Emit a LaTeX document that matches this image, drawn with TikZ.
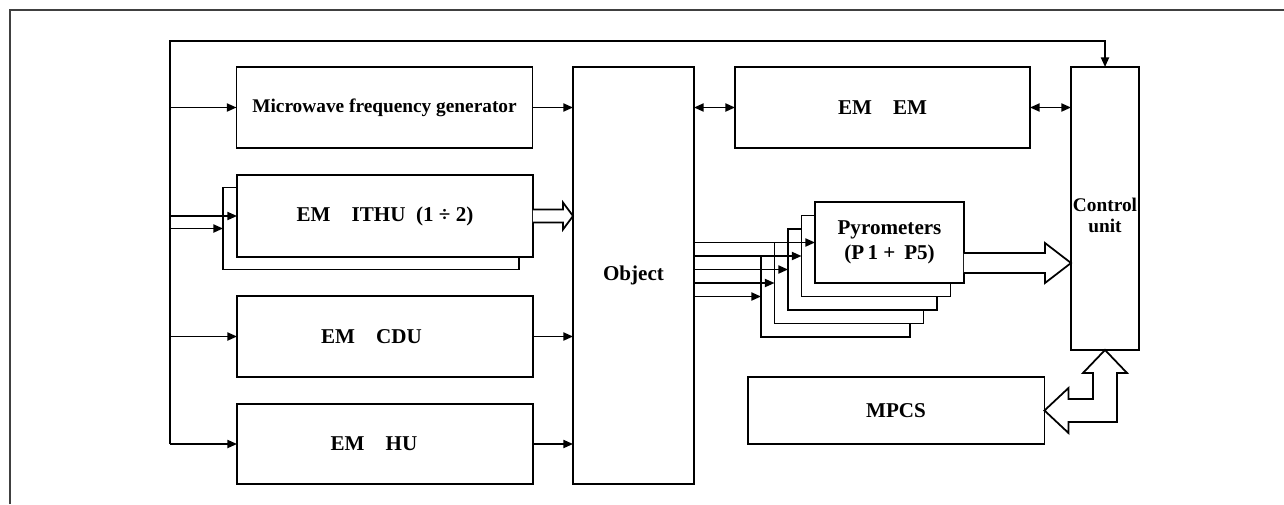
\documentclass[tikz,border=0pt]{standalone}
\usepackage{fontspec}
\setmainfont{Liberation Serif}
\usetikzlibrary{calc, arrows.meta}

\begin{document}
\begin{tikzpicture}[x=0.02cm, y=-0.02cm, line width=1pt,
    >={Triangle[length=5.5pt,width=4.6pt]},
    box/.style={draw, fill=white, line width=1.1pt, inner sep=0pt, outer sep=0pt,
      font=\bfseries\fontsize{12}{13}\selectfont, align=center},
    wide/.style={box, minimum width=5.92cm, minimum height=1.62cm},
    pbox/.style={box, minimum width=2.98cm, minimum height=1.62cm}]
    \useasboundingbox (0,0) rectangle (1284,504);
    \draw[line width=0.7pt, black!75] (10,504) -- (10,10) -- (1284,10);

    % left column
    \node (mfg) [wide, font=\bfseries\fontsize{11}{13}\selectfont] at (384.5,107.5) {Microwave frequency generator};
    \node (ithub) [wide, minimum height=1.64cm] at (371,228.5) {};
    \node (ithu) [wide, minimum height=1.64cm] at (385,216) {EM\quad ITHU\enspace(1 ÷ 2)};
    \node (cdu) [wide] at (385,336.5) {EM\quad CDU\hspace*{0.54cm}};
    \node (hu) [wide, minimum height=1.6cm] at (385,444) {EM\quad HU\hspace*{0.44cm}};

    \node (obj) [box, minimum width=2.42cm, minimum height=8.34cm] at (633.5,275.5) {Object};
    \node (emem) [wide, minimum width=5.9cm] at (882.5,107.5) {EM\quad EM};
    \node (ctrl) [box, minimum width=1.36cm, minimum height=5.66cm, font=\bfseries\fontsize{11}{12}\selectfont] at (1105,208.5) {\\[4pt]Control\\unit};
    \node (mpcs) [wide, minimum width=5.94cm, minimum height=1.34cm] at (896,410.5) {MPCS};

    % pyrometer stack
    \foreach \k in {4,3,2,1}
    \node (p\k) [pbox] at ({889.5-13.5*\k},{242.5+13.5*\k}) {};
    \node (p0) [pbox, font=\bfseries\fontsize{12}{14}\selectfont] at (889.5,242.5) {Pyrometers\\(P\,1 +\, P5)};
    \foreach \k in {0,...,4}
    \draw[->] (obj.east |- p\k.west) -- (p\k.west);

    % supply bus
    \coordinate (bustop) at (170,41);
    \draw[->] (bustop |- hu.west) -- (bustop) -| (ctrl.north);
    \foreach \b in {mfg, ithu, ithub, cdu, hu}
    \draw[->] (bustop |- \b.west) -- (\b.west);
    \foreach \b in {mfg, cdu, hu}
    \draw[->] (\b.east) -- (obj.west |- \b.east);
    \draw[<->] (obj.east |- emem.west) -- (emem.west);
    \draw[<->] (emem.east) -- (ctrl.west |- emem.east);

    % hollow arrows
    \draw[fill=white] ($(ithu.east)+(0,-6.5)$) -- ++(30,0) -- ++(0,-7) -- (obj.west |- ithu.east)
      -- ($(ithu.east)+(30,13.5)$) -- ++(0,-7) -- ($(ithu.east)+(0,6.5)$);
    \coordinate (pyout) at ($(p0.east)+(0,20.5)$);
    \draw[fill=white] ($(pyout)+(0,-10)$) -- ++(81,0) -- ++(0,-10) -- (ctrl.west |- pyout)
      -- ($(pyout)+(81,20)$) -- ++(0,-10) -- ($(pyout)+(0,10)$);
    \draw[fill=white] (ctrl.south) -- ++(22,23) -- ++(-10,0) |- ($(mpcs.east)+(24,11.5)$)
      -- ++(0,11) -- (mpcs.east) -- ++(24,-22.5) -- ++(0,11) -| ($(ctrl.south)+(-12,23)$)
      -- ++(-10,0) -- cycle;
\end{tikzpicture}
\end{document}
